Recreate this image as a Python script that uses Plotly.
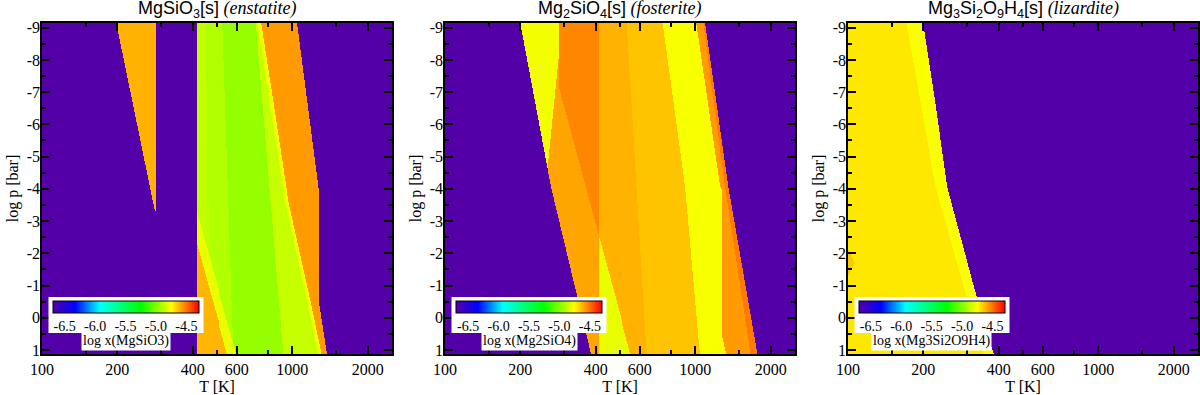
import numpy as np
import plotly.graph_objects as go

# limites dos eixos
T_MIN, T_MAX = 100, 2500
P_TOP, P_BOT = -9.145, 1.125
BG = -6.7  # sem condensado

escala = [[0.0, "rgb(84,0,168)"], [0.15, "rgb(0,0,255)"], [0.32, "rgb(0,255,255)"],
          [0.60, "rgb(0,255,0)"], [0.81, "rgb(255,255,0)"], [1.0, "rgb(255,0,0)"]]

ticks_T = [100, 200, 400, 600, 1000, 2000]
minor_T = [150, 300, 500, 800, 1500]
ticks_p = [-9, -8, -7, -6, -5, -4, -3, -2, -1, 0, 1]
minor_p = [-8.5, -7.5, -6.5, -5.5, -4.5, -3.5, -2.5, -1.5, -0.5, 0.5]
ticks_cb = [-6.5, -6.0, -5.5, -5.0, -4.5]

# --- enstatite (regioes em T [K] x log p) ---
enst_band_T = [413, 1036, 1271, 1271, 1382, 413]
enst_band_p = [-9.3, -9.3, -4.0, -0.55, 1.3, 1.3]
enst_band_v = -4.91
enst_edge_T = [413, 445, 470, 413]
enst_edge_p = [-9.3, -9.3, 1.3, 1.3]
enst_green_T = [524, 711, 922, 582]
enst_green_p = [-9.3, -9.3, 1.3, 1.3]
enst_light_T = [711, 760, 1300, 922]
enst_light_p = [-9.3, -9.3, 1.3, 1.3]
enst_yel_T = [718, 810, 905, 930, 1140, 1275, 1600, 1600]
enst_org_T = [745, 841, 936, 961, 1178, 1320, 1600, 1600]
enst_org_p = [-9.3, -6.66, -4.28, -3.64, -0.54, 1.3, 1.3, -9.3]
enst_lowyel_T = [413, 605, 300, 300]
enst_lowyel_p = [-3.3, 1.3, 1.3, -3.3]
enst_loworg_T = [413, 556, 300, 300]
enst_loworg_p = [-2.31, 1.3, 1.3, -2.31]
enst_wedge_T = [195, 284, 284, 280]
enst_wedge_p = [-9.3, -9.3, -3.34, -3.34]

# --- fosterite ---
fost_band_T = [197, 263, 385, 1780, 1350, 1085]
fost_band_p = [-9.3, -4.08, 1.3, 1.3, -4.08, -9.3]
fost_band_v = -4.62
fost_left_T = [150, 284, 284, 410, 410, 150]
fost_left_p = [-9.3, -9.3, -7.12, -2.52, 1.3, 1.3]
fost_dark_T = [284, 410, 410, 284]
fost_dark_p = [-9.3, -9.3, -2.52, -7.12]
fost_yel_T = [150, 284, 284, 250, 150]
fost_yel_p = [-9.3, -9.3, -8.3, -4.0, -4.0]
fost_low_T = [410, 557, 410]
fost_low_p = [-2.52, 1.3, 1.3]
fost_stripe_T = [530, 640, 2500, 2500]
fost_stripe_p = [-9.3, 1.3, 1.3, -9.3]
fost_right_T = [1000, 1253, 1271, 1271, 1340, 2500, 2500]
fost_right_p = [-9.3, -4.08, -4.0, 0.5, 1.3, 1.3, -9.3]
fost_ybar_T = [735, 908, 1045, 1340, 1271, 1271, 1253, 1000]
fost_ybar_p = [-9.3, -4.08, 1.3, 1.3, 0.5, -4.0, -4.08, -9.3]
fost_edge_T = [1068, 1310, 1670, 2500, 2500]
fost_edge_p = [-9.3, -4.08, 1.3, 1.3, -9.3]

# --- lizardite ---
liz_band_T = [90, 197, 222, 247, 316, 385, 90]
liz_band_p = [-9.3, -9.3, -6.66, -4.08, -0.97, 1.3, 1.3]
liz_band_v = -4.715
liz_strip_T = [169, 222, 288, 351, 600, 600]
liz_strip_p = [-9.3, -4.08, -0.97, 1.3, 1.3, -9.3]
liz_spot_T = [95, 106, 95]
liz_spot_p = [-2.5, -1.7, -1.0]

# grade
lt = np.linspace(np.log10(T_MIN), np.log10(T_MAX), 352)
lp = np.linspace(P_TOP, P_BOT, 332)
XX, YY = np.meshgrid(lt, lp)


def dentro(T, p):
    x = np.log10(np.asarray(T, float))
    y = np.asarray(p, float)
    m = np.zeros(XX.shape, bool)
    for i in range(len(x)):
        x1, y1, x2, y2 = x[i], y[i], x[i - 1], y[i - 1]
        if y1 == y2:
            continue
        cruza = (y1 > YY) != (y2 > YY)
        xc = x1 + (YY - y1) * (x2 - x1) / (y2 - y1)
        m ^= cruza & (XX < xc)
    return m


def campo(band_T, band_p, band_v, camadas, extras=()):
    z = np.full(XX.shape, BG)
    mask = dentro(band_T, band_p)
    z[mask] = band_v
    for T, p, v in camadas:
        z[dentro(T, p) & mask] = v
    for T, p, v in extras:
        z[dentro(T, p)] = v
    return z


z_enst = campo(enst_band_T, enst_band_p, enst_band_v, [
    (enst_edge_T, enst_edge_p, -4.88),
    (enst_green_T, enst_green_p, -4.965),
    (enst_light_T, enst_light_p, -4.87),
    (enst_yel_T, enst_org_p, -4.79),
    (enst_org_T, enst_org_p, -4.575),
    (enst_lowyel_T, enst_lowyel_p, -4.80),
    (enst_loworg_T, enst_loworg_p, -4.625),
], [(enst_wedge_T, enst_wedge_p, -4.62)])

z_fost = campo(fost_band_T, fost_band_p, fost_band_v, [
    (fost_left_T, fost_left_p, -4.595),
    (fost_dark_T, fost_dark_p, -4.54),
    (fost_yel_T, fost_yel_p, -4.78),
    (fost_low_T, fost_low_p, -4.80),
    (fost_stripe_T, fost_stripe_p, -4.65),
    (fost_right_T, fost_right_p, -4.575),
    (fost_ybar_T, fost_ybar_p, -4.77),
    (fost_edge_T, fost_edge_p, -4.52),
])

z_liz = campo(liz_band_T, liz_band_p, liz_band_v, [
    (liz_strip_T, liz_strip_p, -4.765),
    (liz_spot_T, liz_spot_p, -4.66),
])

SERIF = "Liberation Serif"
W, H = 1200, 395
ML, MR, MT, MB = 42, 2, 23, 41
PW = W - ML - MR
PH = H - MT - MB
doms = [[0, 350 / PW], [403 / PW, 753 / PW], [806 / PW, 1]]
centros_px = [125.5, 529, 931.7]

titulos = [
    '<span style="font-family:Liberation Sans">MgSiO<sub>3</sub>[s]</span> <i>(enstatite)</i>',
    '<span style="font-family:Liberation Sans">Mg<sub>2</sub>SiO<sub>4</sub>[s]</span> <i>(fosterite)</i>',
    '<span style="font-family:Liberation Sans">Mg<sub>3</sub>Si<sub>2</sub>O<sub>9</sub>H<sub>4</sub>[s]</span> <i>(lizardite)</i>',
]
rotulos_cb = ["log x(MgSiO3)", "log x(Mg2SiO4)", "log x(Mg3Si2O9H4)"]

fig = go.Figure()
annots = []
for i, z in enumerate([z_enst, z_fost, z_liz]):
    sx = "" if i == 0 else str(i + 1)
    xc = (centros_px[i] - ML) / PW
    fig.add_trace(go.Heatmap(
        x=10 ** lt, y=lp, z=z, colorscale=escala, zmin=-6.7, zmax=-4.3, zsmooth="best",
        xaxis="x" + sx, yaxis="y" + sx,
        colorbar=dict(orientation="h", x=xc, xanchor="center", y=(354 - 297) / PH, yanchor="top",
                      lenmode="pixels", len=154, thickness=12, xpad=4, ypad=4,
                      bgcolor="white", outlinecolor="black", outlinewidth=1, borderwidth=0,
                      tickvals=ticks_cb, ticktext=["%.1f" % v for v in ticks_cb], ticks="",
                      tickfont=dict(family=SERIF, size=14, color="black")),
    ))
    fig.update_layout(**{
        "xaxis" + sx: dict(
            domain=doms[i], anchor="y" + sx, type="log", range=[2, np.log10(T_MAX)],
            tickvals=ticks_T, ticktext=[str(t) for t in ticks_T],
            ticks="inside", ticklen=8, tickwidth=1.5, tickcolor="black",
            minor=dict(tickvals=minor_T, ticks="inside", ticklen=4, tickwidth=1.5, tickcolor="black"),
            showline=True, linecolor="black", linewidth=1.5, mirror="allticks",
            showgrid=False, zeroline=False, automargin=False,
            tickfont=dict(family=SERIF, size=16, color="black"),
            title=dict(text="T [K]", standoff=0, font=dict(family=SERIF, size=16, color="black"))),
        "yaxis" + sx: dict(
            anchor="x" + sx, range=[P_BOT, P_TOP],
            tickvals=ticks_p, ticktext=[str(t) for t in ticks_p],
            ticks="inside", ticklen=8, tickwidth=1.5, tickcolor="black", ticklabelstandoff=-3,
            minor=dict(tickvals=minor_p, ticks="inside", ticklen=4, tickwidth=1.5, tickcolor="black"),
            showline=True, linecolor="black", linewidth=1.5, mirror="allticks",
            showgrid=False, zeroline=False, automargin=False,
            tickfont=dict(family=SERIF, size=16, color="black"),
            title=dict(text="log p [bar]", standoff=4, font=dict(family=SERIF, size=16, color="black"))),
    })
    annots.append(dict(text=titulos[i], x=sum(doms[i]) / 2, y=(354 - 10) / PH, xref="paper", yref="paper",
                       xanchor="center", yanchor="middle", showarrow=False,
                       font=dict(family=SERIF, size=18, color="black")))
    annots.append(dict(text=rotulos_cb[i], x=xc, y=(354 - 340.5) / PH, xref="paper", yref="paper",
                       xanchor="center", yanchor="middle", showarrow=False, bgcolor="white", borderpad=1,
                       font=dict(family=SERIF, size=14, color="black")))

fig.update_layout(width=W, height=H, margin=dict(l=ML, r=MR, t=MT, b=MB),
                  paper_bgcolor="white", plot_bgcolor="white", annotations=annots)
# tira a margem padrao do body para a figura ficar em (0,0)
fig.write_html("out.html", config={"displayModeBar": False},
               post_script="document.body.style.margin='0px';")
